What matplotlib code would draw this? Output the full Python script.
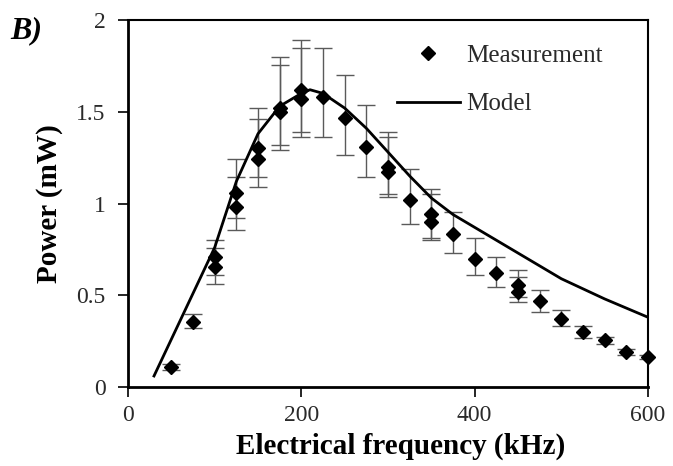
import matplotlib.pyplot as plt
import numpy as np

# measured points (kHz, mW) with the top and bottom of each error bar
freq = [50, 75, 100, 100, 125, 125, 150, 150, 175, 175, 200, 200, 225, 250, 275,
        300, 300, 325, 350, 350, 375, 400, 425, 450, 450, 475, 500, 525, 550, 575, 600]
power = [0.11, 0.355, 0.71, 0.655, 1.055, 0.98, 1.3, 1.245, 1.52, 1.50, 1.62, 1.57, 1.58, 1.465, 1.31,
         1.2, 1.17, 1.02, 0.945, 0.9, 0.835, 0.7, 0.62, 0.555, 0.52, 0.47, 0.37, 0.3, 0.255, 0.19, 0.165]
err_top = [0.125, 0.40, 0.8, 0.755, 1.24, 1.145, 1.52, 1.46, 1.8, 1.755, 1.89, 1.845, 1.845, 1.7, 1.535,
           1.39, 1.36, 1.19, 1.08, 1.05, 0.955, 0.81, 0.71, 0.635, 0.60, 0.53, 0.42, 0.335, 0.275, 0.205, 0.175]
err_bot = [0.095, 0.32, 0.61, 0.56, 0.92, 0.855, 1.145, 1.09, 1.32, 1.29, 1.39, 1.365, 1.365, 1.265, 1.145,
           1.035, 1.05, 0.89, 0.81, 0.80, 0.73, 0.61, 0.545, 0.49, 0.465, 0.41, 0.335, 0.265, 0.235, 0.175, 0.155]

# model curve
model_f = [30, 50, 75, 100, 125, 150, 175, 200, 210, 225, 250, 275, 300, 325, 350,
           375, 400, 425, 450, 500, 550, 600]
model_p = [0.06, 0.26, 0.51, 0.76, 1.12, 1.38, 1.53, 1.60, 1.62, 1.60, 1.52, 1.41, 1.28, 1.15, 1.03,
           0.94, 0.87, 0.80, 0.73, 0.59, 0.48, 0.38]

plt.rcParams['font.family'] = ['Liberation Serif', 'DejaVu Serif']

fig = plt.figure(figsize=(6.73, 4.66), dpi=100)
ax = fig.add_axes([128/673, 1-387/466, 520/673, 367/466])

p = np.array(power)
yerr = [p - np.array(err_bot), np.array(err_top) - p]
ax.errorbar(freq, power, yerr=yerr, fmt='none', ecolor='#5a5a5a', elinewidth=1.0,
            capsize=6.5, capthick=1.0, zorder=2)
ax.plot(freq, power, 'D', color='black', markersize=7, label='Measurement', zorder=3, clip_on=False)
ax.plot(model_f, model_p, '-', color='black', linewidth=2, label='Model', zorder=2)

ax.set_xlim(0, 600)
ax.set_ylim(0, 2)
ax.set_xticks([0, 200, 400, 600])
ax.set_yticks([0, 0.5, 1, 1.5, 2])
ax.set_yticklabels(['0', '0.5', '1', '1.5', '2'])
ax.tick_params(direction='out', length=7, width=1.2, labelsize=17, colors='black', labelcolor='#2a2a2a')
ax.tick_params(axis='y', pad=9)
ax.tick_params(axis='x', pad=6)
for s in ['left', 'bottom']:
    ax.spines[s].set_linewidth(2)
for s in ['top', 'right']:
    ax.spines[s].set_linewidth(1.5)

ax.set_xlabel('Electrical frequency (kHz)', fontsize=21, fontweight='bold', labelpad=2)
ax.xaxis.set_label_coords(0.525, -0.125)
ax.set_ylabel('Power (mW)', fontsize=21, fontweight='bold', labelpad=10)

leg = ax.legend(loc='upper left', bbox_to_anchor=(397/673, 1-44/466), bbox_transform=fig.transFigure,
                frameon=False, fontsize=18, borderpad=0, borderaxespad=0,
                handlelength=2.5, handletextpad=0.25, labelspacing=1.05)
for t in leg.get_texts():
    t.set_color('#2a2a2a')

fig.text(10/673, 1-38/466, 'B)', fontsize=23, fontweight='bold', fontstyle='italic')

fig.savefig('out.png', dpi=100)
